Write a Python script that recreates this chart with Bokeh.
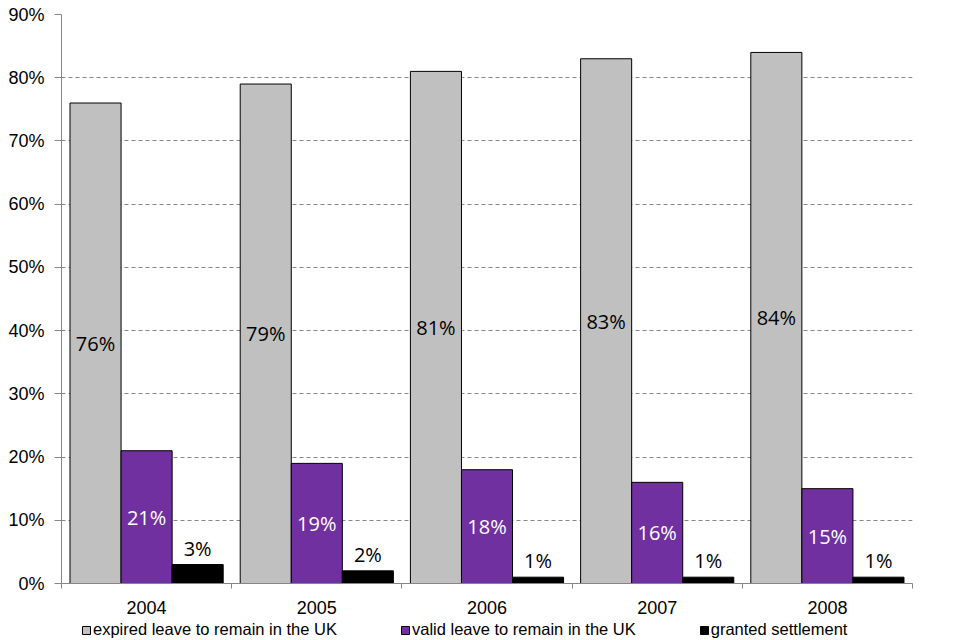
from bokeh.plotting import figure
from bokeh.layouts import column
from bokeh.models import (Range1d, FixedTicker, PrintfTickFormatter, Legend, LegendItem,
                          ColumnDataSource)
from bokeh.embed import file_html
from bokeh.resources import INLINE
from bokeh.core.properties import value

years = ["2004", "2005", "2006", "2007", "2008"]
expired = [76, 79, 81, 83, 84]
valid = [21, 19, 18, 16, 15]
settled = [3, 2, 1, 1, 1]
series_names = ["expired leave to remain in the UK", "valid leave to remain in the UK", "granted settlement"]
colors = ["#C0C0C0", "#7030A0", "#000000"]
y_ticks = [0, 10, 20, 30, 40, 50, 60, 70, 80, 90]

idx = list(range(len(years)))
centers = [i + 0.5 for i in idx]
bw = 0.3
offsets = [-bw, 0.0, bw]

p = figure(frame_width=851, frame_height=569, output_backend="svg", toolbar_location=None,
           x_range=Range1d(0, len(years)), y_range=Range1d(0, 90),
           min_border_left=61, min_border_top=14, min_border_right=40, min_border_bottom=36)
p.outline_line_color = None
p.background_fill_color = "white"

all_series = [expired, valid, settled]
label_colors = ["black", "white", "black"]
for k, (vals, col) in enumerate(zip(all_series, colors)):
    xs = [c + offsets[k] for c in centers]
    src = ColumnDataSource(dict(x=xs, top=vals, mid=[v / 2 for v in vals],
                                lab=[f"{v}%" for v in vals]))
    p.vbar(x="x", top="top", width=bw, bottom=0, source=src, fill_color=col,
           line_color="black", line_width=1)
    if k < 2:
        p.text(x="x", y="mid", text="lab", source=src, text_align="center",
               text_baseline="middle", text_color=label_colors[k],
               text_font=value("Open Sans"), text_font_size="20px")
    else:
        p.text(x="x", y="top", text="lab", source=src, text_align="center",
               text_baseline="bottom", y_offset=-3, text_color=label_colors[k],
               text_font=value("Open Sans"), text_font_size="20px")

# grid
p.xgrid.grid_line_color = None
p.ygrid.ticker = FixedTicker(ticks=y_ticks)
p.ygrid.grid_line_color = "#868686"
p.ygrid.grid_line_dash = "4 3"
p.ygrid.grid_line_width = 1

# y axis
p.yaxis.ticker = FixedTicker(ticks=y_ticks)
p.yaxis.formatter = PrintfTickFormatter(format="%d%%")
p.yaxis.axis_line_color = "#868686"
p.yaxis.major_tick_line_color = "#868686"
p.yaxis.major_tick_out = 7
p.yaxis.major_tick_in = 0
p.yaxis.minor_tick_line_color = None
p.yaxis.major_label_text_font = "Liberation Sans"
p.yaxis.major_label_text_font_size = "18px"
p.yaxis.major_label_text_color = "black"
p.yaxis.major_label_standoff = 10

# x axis
p.xaxis.ticker = FixedTicker(ticks=centers, minor_ticks=[i for i in range(len(years) + 1)])
p.xaxis.major_label_overrides = {c: y for c, y in zip(centers, years)}
p.xaxis.major_tick_line_color = None
p.xaxis.minor_tick_line_color = "#868686"
p.xaxis.minor_tick_out = 5
p.xaxis.minor_tick_in = 0
p.xaxis.axis_line_color = "#868686"
p.xaxis.major_label_text_font = "Liberation Sans"
p.xaxis.major_label_text_font_size = "18px"
p.xaxis.major_label_text_color = "black"
p.xaxis.major_label_standoff = 11

# legend strip below the chart
lg = figure(width=952, height=21, output_backend="svg", toolbar_location=None,
            x_range=Range1d(0, 1), y_range=Range1d(0, 1),
            min_border_left=0, min_border_right=0, min_border_top=0, min_border_bottom=0)
lg.axis.visible = False
lg.grid.visible = False
lg.outline_line_color = None
dummies = [lg.vbar(x=[-10], top=[0], width=0.1, fill_color=c, line_color="black") for c in colors]
legend = Legend(items=[LegendItem(label=n, renderers=[r]) for n, r in zip(series_names, dummies)],
                orientation="horizontal", location=(20, 1), spacing=63, padding=0, margin=0,
                glyph_width=10, glyph_height=10, label_standoff=2,
                label_text_font="Liberation Sans", label_text_font_size="16.5px",
                label_text_color="black", border_line_color=None, background_fill_alpha=0,
                label_height=16)
lg.add_layout(legend, "center")

layout = column(p, lg, spacing=0)
open("out.html", "w").write(file_html(layout, INLINE))
